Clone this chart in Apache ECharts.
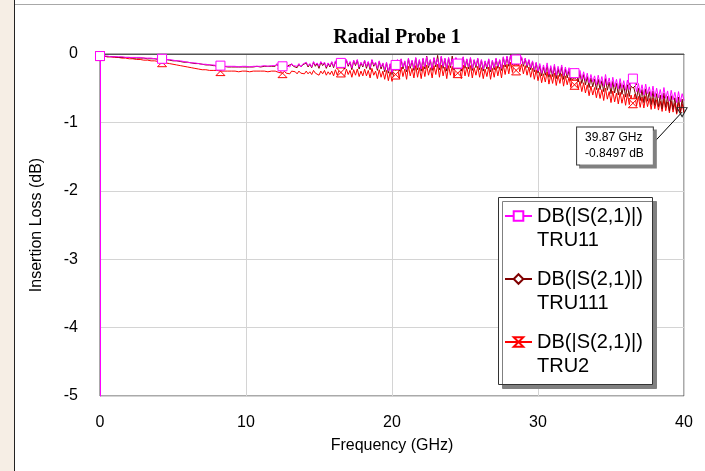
<!DOCTYPE html>
<html>
<head>
<meta charset="utf-8">
<title>Radial Probe 1</title>
<script src="https://cdn.jsdelivr.net/npm/echarts@6.0.0/dist/echarts.min.js"></script>
<style>
  html, body { margin: 0; padding: 0; background: #fff; }
  #chart1 { width: 705px; height: 471px; }
</style>
</head>
<body>
<div id="chart1"></div>
<script>
// frequency sweep: 0..12 GHz every 0.25 GHz, then 12.125..40 GHz every 0.125 GHz
var lowStep = 0.25, lowEnd = 12;
var highStep = 0.125, highEnd = 40;
var xTicks = [0, 10, 20, 30, 40];
var yTicks = [-5, -4, -3, -2, -1, 0];

// DB(|S(2,1)|) TRU11 (magenta)
var tru11 = [
  // 0 .. 12 GHz
  -0.03,-0.03,-0.03,-0.04,-0.04,-0.04,-0.04,-0.05,-0.05,-0.05,
  -0.05,-0.05,-0.06,-0.06,-0.06,-0.07,-0.07,-0.07,-0.08,-0.08,
  -0.09,-0.10,-0.10,-0.11,-0.12,-0.13,-0.13,-0.14,-0.15,-0.15,
  -0.16,-0.16,-0.17,-0.17,-0.18,-0.18,-0.18,-0.18,-0.19,-0.18,
  -0.18,-0.19,-0.18,-0.18,-0.18,-0.17,-0.18,-0.17,-0.17,
  // 12.125 .. 40 GHz, 2 GHz per row
  -0.14,-0.18,-0.15,-0.18,-0.14,-0.17,-0.16,-0.19,-0.14,-0.17,-0.15,-0.18,-0.14,-0.19,-0.15,-0.17,
  -0.12,-0.17,-0.14,-0.19,-0.11,-0.16,-0.13,-0.18,-0.11,-0.15,-0.12,-0.19,-0.13,-0.17,-0.11,-0.18,
  -0.10,-0.17,-0.09,-0.13,-0.12,-0.19,-0.08,-0.16,-0.11,-0.20,-0.09,-0.15,-0.08,-0.19,-0.12,-0.17,
  -0.09,-0.18,-0.11,-0.20,-0.08,-0.16,-0.12,-0.21,-0.10,-0.19,-0.13,-0.23,-0.12,-0.25,-0.14,-0.27,
  -0.16,-0.16,-0.08,-0.22,-0.07,-0.19,-0.10,-0.23,-0.06,-0.18,-0.09,-0.21,-0.05,-0.20,-0.08,-0.22,
  -0.06,-0.19,-0.04,-0.17,-0.08,-0.21,-0.05,-0.16,-0.07,-0.20,-0.03,-0.18,-0.06,-0.21,-0.05,-0.17,
  -0.07,-0.20,-0.05,-0.14,-0.09,-0.22,-0.04,-0.18,-0.07,-0.19,-0.05,-0.21,-0.08,-0.17,-0.06,-0.20,
  -0.08,-0.22,-0.10,-0.19,-0.07,-0.23,-0.09,-0.20,-0.06,-0.18,-0.08,-0.21,-0.04,-0.16,-0.03,-0.15,
  -0.02,-0.13,-0.03,-0.08,-0.01,-0.12,-0.04,-0.15,-0.06,-0.17,-0.08,-0.20,-0.10,-0.23,-0.12,-0.25,
  -0.14,-0.28,-0.16,-0.27,-0.13,-0.30,-0.17,-0.29,-0.15,-0.31,-0.18,-0.28,-0.16,-0.32,-0.19,-0.30,
  -0.20,-0.33,-0.22,-0.28,-0.21,-0.35,-0.24,-0.37,-0.26,-0.39,-0.28,-0.42,-0.30,-0.41,-0.32,-0.45,
  -0.31,-0.44,-0.33,-0.47,-0.30,-0.45,-0.35,-0.49,-0.34,-0.48,-0.37,-0.51,-0.36,-0.50,-0.39,-0.53,
  -0.38,-0.52,-0.40,-0.36,-0.39,-0.55,-0.43,-0.57,-0.45,-0.60,-0.44,-0.58,-0.48,-0.62,-0.47,-0.63,
  -0.50,-0.64,-0.52,-0.66,-0.49,-0.65,-0.54,-0.69,-0.53,-0.67,-0.56,-0.71,-0.55,-0.70,-0.58,-0.68
];

// DB(|S(2,1)|) TRU111 (dark red)
var tru111 = [
  -0.03,-0.03,-0.04,-0.04,-0.04,-0.05,-0.05,-0.05,-0.05,-0.06,
  -0.06,-0.06,-0.06,-0.07,-0.07,-0.07,-0.08,-0.08,-0.08,-0.09,
  -0.10,-0.10,-0.11,-0.12,-0.12,-0.13,-0.14,-0.14,-0.15,-0.16,
  -0.16,-0.17,-0.17,-0.18,-0.18,-0.19,-0.19,-0.19,-0.19,-0.19,
  -0.19,-0.19,-0.19,-0.18,-0.19,-0.18,-0.18,-0.18,-0.18,
  -0.15,-0.19,-0.16,-0.18,-0.15,-0.20,-0.17,-0.19,-0.15,-0.18,-0.16,-0.20,-0.15,-0.19,-0.16,-0.18,
  -0.13,-0.19,-0.15,-0.20,-0.12,-0.18,-0.14,-0.21,-0.12,-0.17,-0.13,-0.21,-0.14,-0.19,-0.12,-0.20,
  -0.11,-0.19,-0.10,-0.14,-0.13,-0.22,-0.09,-0.18,-0.12,-0.23,-0.10,-0.17,-0.09,-0.22,-0.13,-0.19,
  -0.10,-0.21,-0.12,-0.23,-0.09,-0.18,-0.13,-0.24,-0.11,-0.22,-0.14,-0.26,-0.13,-0.28,-0.15,-0.30,
  -0.17,-0.18,-0.09,-0.25,-0.08,-0.22,-0.11,-0.26,-0.07,-0.21,-0.10,-0.24,-0.06,-0.23,-0.09,-0.25,
  -0.07,-0.22,-0.03,-0.20,-0.09,-0.24,-0.06,-0.19,-0.02,-0.23,-0.04,-0.21,-0.07,-0.25,-0.06,-0.20,
  -0.03,-0.23,-0.06,-0.16,-0.10,-0.25,-0.05,-0.21,-0.08,-0.22,-0.06,-0.24,-0.09,-0.20,-0.07,-0.23,
  -0.09,-0.25,-0.11,-0.22,-0.08,-0.26,-0.10,-0.23,-0.07,-0.21,-0.09,-0.24,-0.05,-0.19,-0.04,-0.18,
  -0.01,-0.16,-0.02,-0.10,0.00,-0.15,-0.05,-0.18,-0.07,-0.20,-0.09,-0.23,-0.11,-0.26,-0.13,-0.28,
  -0.17,-0.32,-0.19,-0.31,-0.16,-0.34,-0.20,-0.33,-0.18,-0.36,-0.21,-0.33,-0.19,-0.37,-0.22,-0.35,
  -0.24,-0.38,-0.26,-0.31,-0.25,-0.41,-0.28,-0.43,-0.30,-0.45,-0.33,-0.49,-0.35,-0.48,-0.37,-0.52,
  -0.37,-0.52,-0.39,-0.55,-0.36,-0.53,-0.41,-0.58,-0.40,-0.57,-0.43,-0.60,-0.42,-0.59,-0.45,-0.63,
  -0.45,-0.62,-0.47,-0.44,-0.46,-0.65,-0.50,-0.68,-0.52,-0.71,-0.51,-0.69,-0.55,-0.74,-0.54,-0.75,
  -0.58,-0.77,-0.60,-0.80,-0.57,-0.78,-0.62,-0.83,-0.61,-0.81,-0.64,-0.86,-0.63,-0.85,-0.66,-0.85
];

// DB(|S(2,1)|) TRU2 (red)
var tru2 = [
  -0.03,-0.03,-0.04,-0.04,-0.05,-0.05,-0.06,-0.06,-0.07,-0.07,
  -0.08,-0.08,-0.09,-0.09,-0.10,-0.10,-0.11,-0.12,-0.13,-0.14,
  -0.15,-0.16,-0.17,-0.18,-0.19,-0.20,-0.21,-0.22,-0.23,-0.23,
  -0.24,-0.24,-0.24,-0.25,-0.25,-0.25,-0.25,-0.25,-0.26,-0.25,
  -0.25,-0.26,-0.25,-0.25,-0.25,-0.25,-0.26,-0.25,-0.25,
  -0.25,-0.27,-0.26,-0.28,-0.25,-0.28,-0.26,-0.29,-0.25,-0.27,-0.26,-0.29,-0.25,-0.28,-0.26,-0.29,
  -0.25,-0.29,-0.26,-0.30,-0.24,-0.28,-0.26,-0.31,-0.25,-0.29,-0.24,-0.31,-0.26,-0.30,-0.25,-0.32,
  -0.23,-0.31,-0.24,-0.27,-0.25,-0.33,-0.22,-0.30,-0.24,-0.34,-0.23,-0.31,-0.22,-0.33,-0.25,-0.32,
  -0.22,-0.32,-0.24,-0.35,-0.21,-0.31,-0.25,-0.36,-0.23,-0.34,-0.25,-0.37,-0.24,-0.39,-0.26,-0.40,
  -0.29,-0.30,-0.20,-0.36,-0.19,-0.33,-0.22,-0.37,-0.18,-0.32,-0.21,-0.35,-0.17,-0.34,-0.20,-0.36,
  -0.18,-0.33,-0.16,-0.31,-0.20,-0.35,-0.17,-0.30,-0.15,-0.34,-0.16,-0.32,-0.19,-0.36,-0.17,-0.31,
  -0.18,-0.34,-0.17,-0.28,-0.21,-0.36,-0.16,-0.32,-0.19,-0.33,-0.17,-0.35,-0.20,-0.31,-0.18,-0.34,
  -0.20,-0.36,-0.22,-0.33,-0.19,-0.37,-0.21,-0.34,-0.18,-0.32,-0.19,-0.35,-0.16,-0.30,-0.15,-0.29,
  -0.12,-0.27,-0.13,-0.24,-0.11,-0.26,-0.15,-0.29,-0.17,-0.31,-0.19,-0.34,-0.21,-0.37,-0.23,-0.39,
  -0.27,-0.42,-0.29,-0.41,-0.26,-0.44,-0.30,-0.43,-0.28,-0.46,-0.31,-0.43,-0.29,-0.47,-0.32,-0.45,
  -0.34,-0.49,-0.36,-0.45,-0.37,-0.52,-0.40,-0.55,-0.42,-0.57,-0.45,-0.61,-0.47,-0.60,-0.49,-0.64,
  -0.50,-0.65,-0.52,-0.68,-0.50,-0.66,-0.55,-0.71,-0.54,-0.70,-0.57,-0.73,-0.56,-0.72,-0.59,-0.75,
  -0.58,-0.74,-0.60,-0.72,-0.59,-0.76,-0.62,-0.78,-0.63,-0.79,-0.62,-0.77,-0.65,-0.81,-0.64,-0.80,
  -0.67,-0.82,-0.69,-0.84,-0.66,-0.83,-0.70,-0.86,-0.69,-0.85,-0.72,-0.88,-0.71,-0.87,-0.73,-0.86
];

// frequencies (GHz) that carry a trace symbol
var markerFreqs = [0, 4.25, 8.25, 12.5, 16.5, 20.25, 24.5, 28.5, 32.5, 36.5];

// readout marker on TRU111
var readoutFreq = 39.87;
var readoutVal = -0.8497;
var readoutLeader = [37.88, -1.306];

var legendNames = ['TRU11', 'TRU111', 'TRU2'];

// frequency of each sample
var freq = [];
for (var f = 0; f <= lowEnd; f += lowStep) freq.push(f);
for (var k = 1; lowEnd + k * highStep <= highEnd; k++) freq.push(lowEnd + k * highStep);

function toPairs(arr) {
  return arr.map(function (v, i) { return [freq[i], v]; });
}
function markerSize(size) {
  return function (val) {
    return markerFreqs.indexOf(val[0]) >= 0 ? size : 0;
  };
}

var sansFont = 'Liberation Sans, Arial, sans-serif';
var hourglass = 'path://M0,0L10,0L0,10L10,10Z';
var downTri = 'path://M0,0L10,0L5,9Z';

var myChart = echarts.init(document.getElementById('chart1'));

var option = {
  animation: false,
  backgroundColor: '#fff',
  title: {
    text: 'Radial Probe 1',
    left: 392,
    top: 23,
    textAlign: 'center',
    textStyle: { fontFamily: 'Liberation Serif, Times New Roman, serif', fontSize: 20, fontWeight: 'bold', color: '#000' }
  },
  grid: {
    left: 100, right: 21, top: 54, bottom: 75,
    show: true, borderColor: '#555', borderWidth: 1, backgroundColor: 'transparent'
  },
  legend: {
    data: legendNames,
    orient: 'vertical',
    left: 504,
    top: 180,
    padding: 0,
    itemGap: -9,
    itemWidth: 27,
    itemHeight: 12,
    z: 4,
    selectedMode: false,
    formatter: function (name) { return '\nDB(|S(2,1)|)\n' + name; },
    textStyle: { fontFamily: sansFont, fontSize: 20, lineHeight: 24, color: '#000' }
  },
  graphic: [
    { type: 'rect', shape: { x: 0, y: 0, width: 14, height: 471 }, style: { fill: '#f6eee5' }, silent: true },
    { type: 'line', shape: { x1: 14.5, y1: 0, x2: 14.5, y2: 471 }, style: { stroke: '#222', lineWidth: 1 }, silent: true },
    { type: 'line', shape: { x1: 15, y1: 4.5, x2: 705, y2: 4.5 }, style: { stroke: '#a8a8a8', lineWidth: 1 }, silent: true },
    {
      type: 'rect', z: 3, silent: true,
      shape: { x: 498.5, y: 197.5, width: 154, height: 187 },
      style: { fill: '#fff', stroke: '#333', lineWidth: 1, shadowColor: '#808080', shadowOffsetX: 4, shadowOffsetY: 4, shadowBlur: 0 }
    }
  ],
  xAxis: {
    type: 'value',
    min: xTicks[0],
    max: xTicks[xTicks.length - 1],
    interval: 10,
    name: 'Frequency (GHz)',
    nameLocation: 'middle',
    nameGap: 42,
    nameTextStyle: { fontFamily: sansFont, fontSize: 16, color: '#000' },
    axisLine: { show: true, lineStyle: { color: '#555', width: 1 } },
    axisTick: { show: false },
    axisLabel: { margin: 19, fontFamily: sansFont, fontSize: 16, color: '#000' },
    splitLine: { show: true, lineStyle: { color: '#d4d4d4', width: 1 } }
  },
  yAxis: {
    type: 'value',
    min: yTicks[0],
    max: yTicks[yTicks.length - 1],
    interval: 1,
    name: 'Insertion Loss (dB)',
    nameLocation: 'middle',
    nameGap: 55,
    nameTextStyle: { fontFamily: sansFont, fontSize: 16, color: '#000' },
    axisLine: { show: true, lineStyle: { color: '#ff00ff', width: 1 } },
    axisTick: { show: false },
    axisLabel: { margin: 22, fontFamily: sansFont, fontSize: 16, color: '#000' },
    splitLine: { show: true, lineStyle: { color: '#d4d4d4', width: 1 } }
  },
  series: [
    {
      name: 'TRU2',
      type: 'line',
      z: 2,
      data: toPairs(tru2),
      showSymbol: true,
      showAllSymbol: true,
      symbol: hourglass,
      symbolSize: markerSize(9),
      lineStyle: { color: '#ff0000', width: 1 },
      itemStyle: { color: '#fff', borderColor: '#ff0000', borderWidth: 1 }
    },
    {
      name: 'TRU111',
      type: 'line',
      z: 3,
      data: toPairs(tru111),
      showSymbol: true,
      showAllSymbol: true,
      symbol: 'diamond',
      symbolSize: markerSize(8),
      lineStyle: { color: '#800000', width: 1 },
      itemStyle: { color: '#fff', borderColor: '#800000', borderWidth: 1 },
      markPoint: {
        symbol: downTri,
        symbolSize: [10, 9],
        itemStyle: { color: 'rgba(0,0,0,0)', borderColor: '#222', borderWidth: 1 },
        label: {
          show: true,
          position: 'inside',
          offset: [-105, 34],
          formatter: readoutFreq + ' GHz\n' + readoutVal + ' dB',
          fontFamily: sansFont,
          fontSize: 12,
          lineHeight: 16,
          color: '#000',
          align: 'left',
          backgroundColor: '#fff',
          borderColor: '#333',
          borderWidth: 1,
          padding: [3, 9, 2, 8],
          shadowColor: '#808080',
          shadowOffsetX: 3,
          shadowOffsetY: 3
        },
        data: [{ coord: [readoutFreq, readoutVal] }]
      },
      markLine: {
        silent: true,
        symbol: ['none', 'none'],
        label: { show: false },
        lineStyle: { color: '#000', width: 1, type: 'solid' },
        data: [[{ coord: [readoutFreq, readoutVal] }, { coord: readoutLeader }]]
      }
    },
    {
      name: 'TRU11',
      type: 'line',
      z: 4,
      data: toPairs(tru11),
      showSymbol: true,
      showAllSymbol: true,
      symbol: 'rect',
      symbolSize: markerSize(9),
      lineStyle: { color: '#ff00ff', width: 1 },
      itemStyle: { color: '#fff', borderColor: '#ff00ff', borderWidth: 1 }
    }
  ]
};

myChart.setOption(option);
</script>
</body>
</html>
